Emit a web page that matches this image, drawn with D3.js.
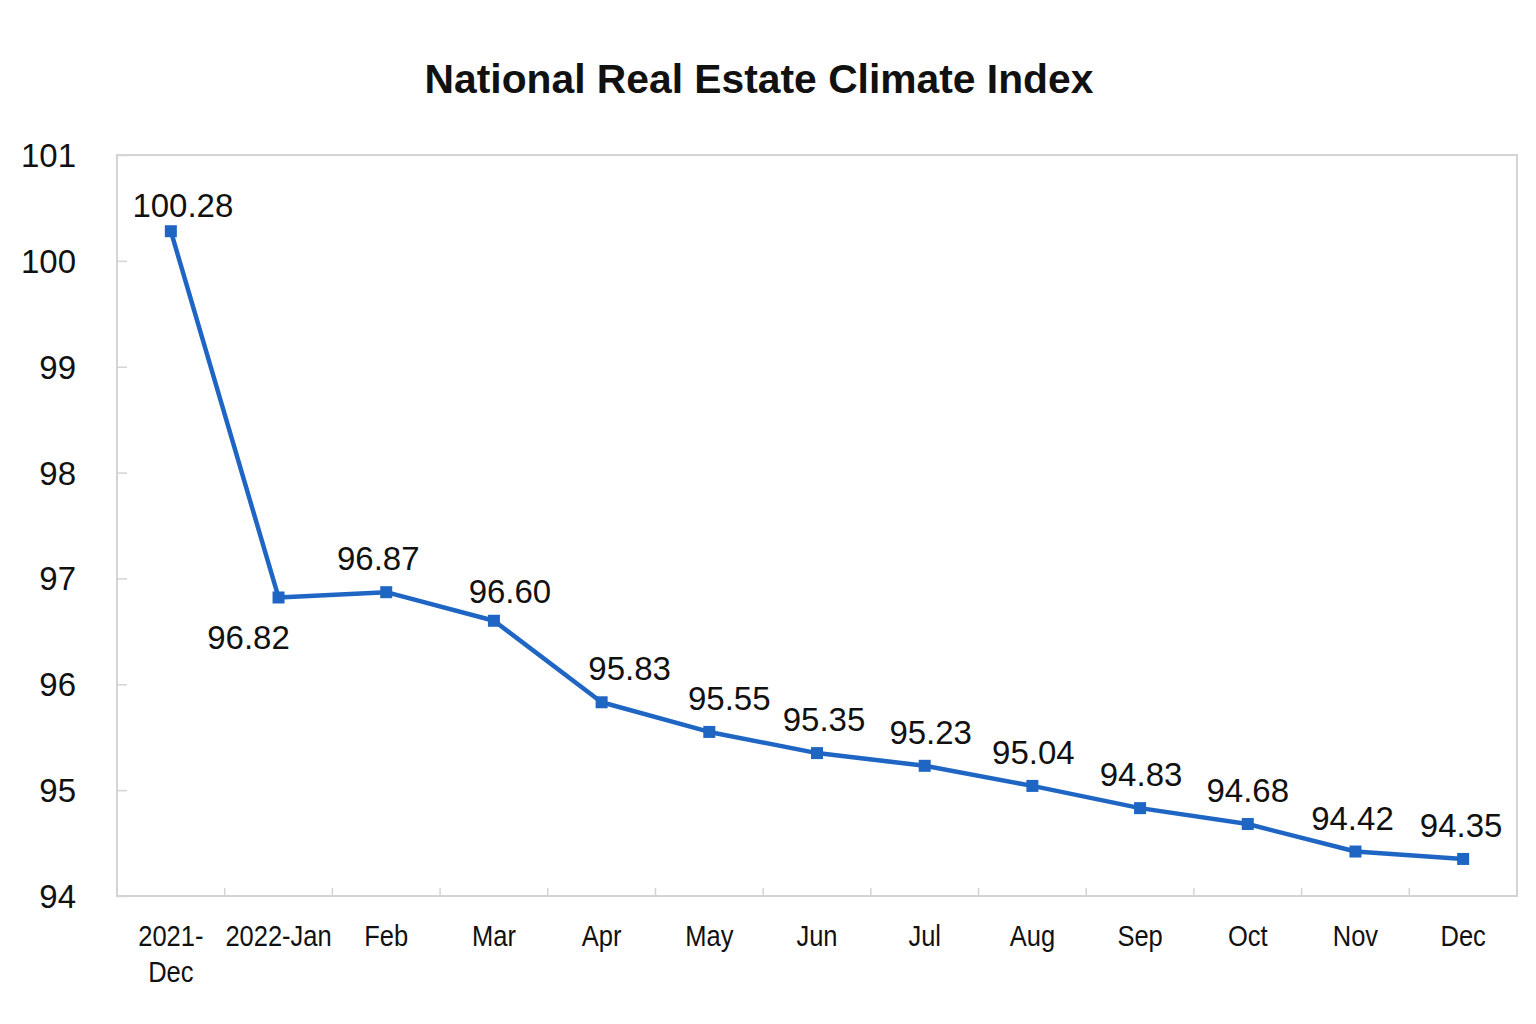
<!DOCTYPE html>
<html><head><meta charset="utf-8">
<script src="https://cdn.jsdelivr.net/npm/d3@7"></script>
<style>
html,body{margin:0;padding:0;background:#fff;}
svg{display:block;}
text{font-family:"Liberation Sans",Arial,Helvetica,sans-serif;fill:#111;}
</style></head>
<body>
<svg id="chart" width="1536" height="1024"></svg>
<script>
const title = "National Real Estate Climate Index";
const categories = ["2021-Dec","2022-Jan","Feb","Mar","Apr","May","Jun","Jul","Aug","Sep","Oct","Nov","Dec"];
const categoryLines = [["2021-","Dec"],["2022-Jan"],["Feb"],["Mar"],["Apr"],["May"],["Jun"],["Jul"],["Aug"],["Sep"],["Oct"],["Nov"],["Dec"]];
const values = [100.28, 96.82, 96.87, 96.60, 95.83, 95.55, 95.35, 95.23, 95.04, 94.83, 94.68, 94.42, 94.35];
const yTicks = [94, 95, 96, 97, 98, 99, 100, 101];

(function () {
const svg = d3.select("#chart");
const pL = 117, pR = 1517, pT = 155, pB = 896;
const color = "#1f66c4";
// label layout nudges (pixels) so labels clear the line, as in the source
const labelDx = [12, -30, -8, 16, 28, 20, 7, 6, 1, 1, 0, -3, -2];
const labelDy = [-14, 52, -22, -18, -22, -22, -22, -22, -22, -22, -22, -22, -22];

const x = d3.scaleBand().domain(categories).range([pL, pR]).paddingInner(0).paddingOuter(0);
const y = d3.scaleLinear().domain([94, 101]).range([pB, pT]);

// title
svg.append("text").attr("x", 759).attr("y", 93).attr("text-anchor", "middle")
  .style("font-size", "40.8px").style("font-weight", "bold").text(title);

// frame
svg.append("rect").attr("x", pL).attr("y", pT).attr("width", pR - pL).attr("height", pB - pT)
  .attr("fill", "none").attr("stroke", "#d4d4d4").attr("stroke-width", 2);

// y axis
const yAxis = d3.axisLeft(y).tickValues(yTicks).tickSize(-10).tickPadding(41).tickFormat(d3.format("d"));
const gy = svg.append("g").attr("transform", `translate(${pL},0)`).call(yAxis);
gy.select(".domain").remove();
gy.selectAll(".tick line").attr("stroke", "#d4d4d4").attr("stroke-width", 1.5);
gy.selectAll(".tick text").style("font-size", "33px").attr("fill", "#111").attr("dy", "0.35em");

// x ticks at band boundaries
const bounds = categories.slice(1).map(c => x(c));
svg.append("g").selectAll("line").data(bounds).join("line")
  .attr("x1", d => d).attr("x2", d => d).attr("y1", pB).attr("y2", pB - 8)
  .attr("stroke", "#d4d4d4").attr("stroke-width", 1.5);

// x labels
const xl = svg.append("g").selectAll("g").data(categories).join("g")
  .attr("transform", d => `translate(${x(d) + x.bandwidth() / 2},946) scale(0.85,1)`);
xl.each(function(d, i) {
  const t = d3.select(this).append("text").attr("text-anchor", "middle").style("font-size", "30px");
  categoryLines[i].forEach((ln, j) => t.append("tspan").attr("x", 0).attr("dy", j === 0 ? 0 : 36).text(ln));
});

const cx = (d, i) => x(categories[i]) + x.bandwidth() / 2;

// line
const line = d3.line().x((d, i) => cx(d, i)).y(d => y(d));
svg.append("path").datum(values).attr("d", line).attr("fill", "none")
  .attr("stroke", color).attr("stroke-width", 4.5).attr("stroke-linejoin", "round");

// markers
svg.append("g").selectAll("rect").data(values).join("rect")
  .attr("x", (d, i) => cx(d, i) - 6).attr("y", d => y(d) - 6).attr("width", 12).attr("height", 12)
  .attr("fill", color);

// data labels
svg.append("g").selectAll("text").data(values).join("text")
  .attr("text-anchor", "middle")
  .attr("x", (d, i) => cx(d, i) + labelDx[i])
  .attr("y", (d, i) => y(d) + labelDy[i])
  .style("font-size", "33px")
  .text(d => d.toFixed(2));
})();
</script>
</body></html>
